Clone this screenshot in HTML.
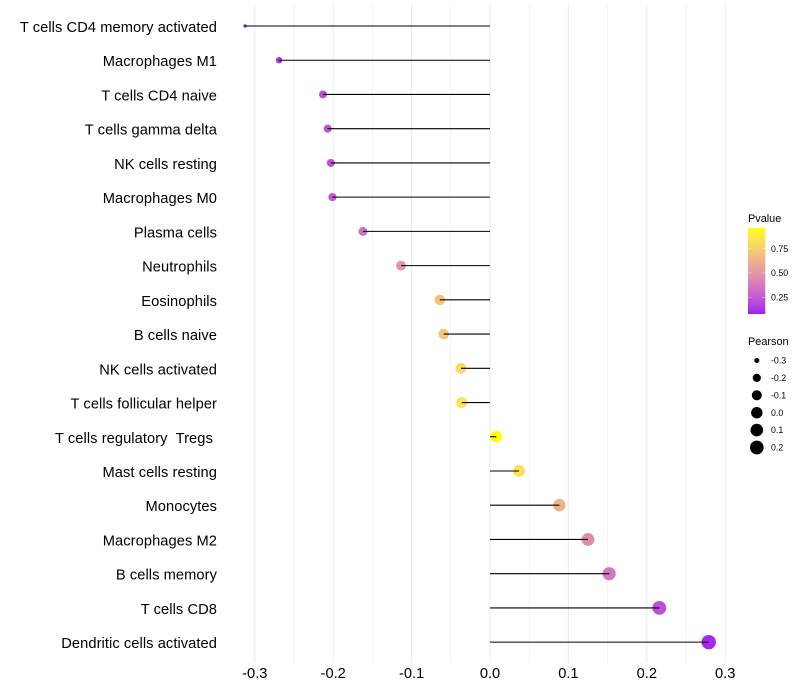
<!DOCTYPE html>
<html>
<head>
<meta charset="utf-8">
<style>
html,body{margin:0;padding:0;background:#fff;width:800px;height:700px;overflow:hidden}
svg{display:block;font-family:"Liberation Sans",sans-serif}
text{white-space:pre}
</style>
</head>
<body>
<svg id="chart" xmlns="http://www.w3.org/2000/svg" width="800" height="700" viewBox="0 0 800 700">
<defs>
<linearGradient id="pgrad" x1="0" y1="1" x2="0" y2="0"></linearGradient>
</defs>
<rect x="0" y="0" width="800" height="700" fill="#fff"></rect>
<g id="grid"></g>
<g id="points"></g>
<g id="stems"></g>
<g id="ylabels"></g>
<g id="xlabels"></g>
<g id="legend-p"></g>
<g id="legend-s"></g>
</svg>
<script>
const categories = ["T cells CD4 memory activated","Macrophages M1","T cells CD4 naive","T cells gamma delta","NK cells resting","Macrophages M0","Plasma cells","Neutrophils","Eosinophils","B cells naive","NK cells activated","T cells follicular helper","T cells regulatory  Tregs ","Mast cells resting","Monocytes","Macrophages M2","B cells memory","T cells CD8","Dendritic cells activated"];
const pearson = [-0.3125,-0.269,-0.213,-0.207,-0.203,-0.201,-0.162,-0.1135,-0.064,-0.059,-0.037,-0.036,0.008,0.037,0.0885,0.125,0.152,0.216,0.279];
const pvalues = [0.08,0.11,0.21,0.22,0.23,0.24,0.33,0.50,0.70,0.72,0.82,0.83,0.965,0.83,0.62,0.46,0.37,0.21,0.09];
const xTicks = [-0.3,-0.2,-0.1,0,0.1,0.2,0.3];
const xMinorTicks = [-0.25,-0.15,-0.05,0.05,0.15,0.25];
const pTicks = [0.25,0.5,0.75];
const sizeTicks = [-0.3,-0.2,-0.1,0,0.1,0.2];

const NS = "http://www.w3.org/2000/svg";
function el(parent, tag, attrs, txt){
  const e = document.createElementNS(NS, tag);
  for (const k in attrs) e.setAttribute(k, attrs[k]);
  if (txt !== undefined) e.textContent = txt;
  parent.appendChild(e);
  return e;
}
const xScale = v => 490 + v * 784;
const yScale = i => 26 + i * 34.23;
const pMin = 0.076, pMax = 0.965;
const pyScale = p => 273 - (p - 0.5) * 96.8;
const rMinV = -0.3125, rMaxV = 0.279;
const rScale = v => 1.7 + 5.5 * Math.sqrt(Math.max(0, (v - rMinV) / (rMaxV - rMinV)));

function toLab(hex){
  let c = [1,3,5].map(i => parseInt(hex.substr(i,2),16)/255).map(u => u>0.04045?Math.pow((u+0.055)/1.055,2.4):u/12.92);
  const X=(0.4124*c[0]+0.3576*c[1]+0.1805*c[2])/0.95047,Y=0.2126*c[0]+0.7152*c[1]+0.0722*c[2],Z=(0.0193*c[0]+0.1192*c[1]+0.9505*c[2])/1.08883;
  const f=t=>t>0.008856?Math.cbrt(t):7.787*t+16/116;
  return [116*f(Y)-16,500*(f(X)-f(Y)),200*(f(Y)-f(Z))];
}
function fromLab(l){
  const fy=(l[0]+16)/116,fx=fy+l[1]/500,fz=fy-l[2]/200;
  const g=t=>t*t*t>0.008856?t*t*t:(t-16/116)/7.787;
  const X=g(fx)*0.95047,Y=g(fy),Z=g(fz)*1.08883;
  const rgb=[3.2406*X-1.5372*Y-0.4986*Z,-0.9689*X+1.8758*Y+0.0415*Z,0.0557*X-0.204*Y+1.057*Z];
  return "rgb("+rgb.map(u=>{u=u>0.0031308?1.055*Math.pow(u,1/2.4)-0.055:12.92*u;return Math.round(Math.min(1,Math.max(0,u))*255);}).join(",")+")";
}
const labLow = toLab("#A020F0"), labHigh = toLab("#FFFF00");
function colorFor(p){
  const t = Math.min(1, Math.max(0, (p - pMin) / (pMax - pMin)));
  return fromLab(labLow.map((v,i)=>v+(labHigh[i]-v)*t));
}

const grid = document.getElementById("grid");
xMinorTicks.forEach(v => {
  const l = el(grid,"line",{x1:xScale(v),x2:xScale(v),y1:5,y2:663,stroke:"#EBEBEB","stroke-width":0.55});
  
  
});
xTicks.forEach(v => {
  const l = el(grid,"line",{x1:xScale(v),x2:xScale(v),y1:5,y2:663,stroke:"#EBEBEB","stroke-width":1.07});
  
  
});

const pointsG = document.getElementById("points");
const stemsG = document.getElementById("stems");
const yl = document.getElementById("ylabels");
categories.forEach((c,i) => {
  const pt = el(pointsG,"circle",{cx:xScale(pearson[i]),cy:yScale(i),r:rScale(pearson[i]),fill:colorFor(pvalues[i])});
  
  
  const s = el(stemsG,"line",{x1:xScale(0),x2:xScale(pearson[i]),y1:yScale(i),y2:yScale(i),stroke:"#000","stroke-width":1.07});
  
  
  const t = el(yl,"text",{x:217,y:yScale(i)+6,"text-anchor":"end","font-size":14.67,"letter-spacing":0.07,fill:"#000"},c);
  
  
});

const xl = document.getElementById("xlabels");
xTicks.forEach(v => {
  const t = el(xl,"text",{x:xScale(v),y:678,"text-anchor":"middle","font-size":14.67,fill:"#000"},v.toFixed(1));
  
  
});

const grad = document.getElementById("pgrad");
for (let k = 0; k <= 20; k++) {
  el(grad,"stop",{offset:(k/20),"stop-color":colorFor(pMin+(pMax-pMin)*k/20)});
}
const lp = document.getElementById("legend-p");
const lpTitle = el(lp,"text",{x:748,y:222,"font-size":10.9,fill:"#000"},"Pvalue");


const bar = el(lp,"rect",{x:748,y:228,width:17.3,height:86,fill:"url(#pgrad)"});


pTicks.forEach(p => {
  const y = pyScale(p);
  el(lp,"line",{x1:748,x2:751.5,y1:y,y2:y,stroke:"#fff","stroke-width":0.5,opacity:0.8});
  el(lp,"line",{x1:761.8,x2:765.3,y1:y,y2:y,stroke:"#fff","stroke-width":0.5,opacity:0.8});
  const t = el(lp,"text",{x:771,y:y+3.1,"font-size":8.8,fill:"#000"},p.toFixed(2));
  
  
});

const ls = document.getElementById("legend-s");
const lsTitle = el(ls,"text",{x:748,y:345,"font-size":10.9,fill:"#000"},"Pearson");


sizeTicks.forEach((v,i) => {
  const y = 360.5 + i * 17.4;
  const c = el(ls,"circle",{cx:756.8,cy:y,r:rScale(v),fill:"#000"});
  
  
  const t = el(ls,"text",{x:771,y:y+3.1,"font-size":8.8,fill:"#000"},v.toFixed(1));
  
  
});
</script>
</body>
</html>
